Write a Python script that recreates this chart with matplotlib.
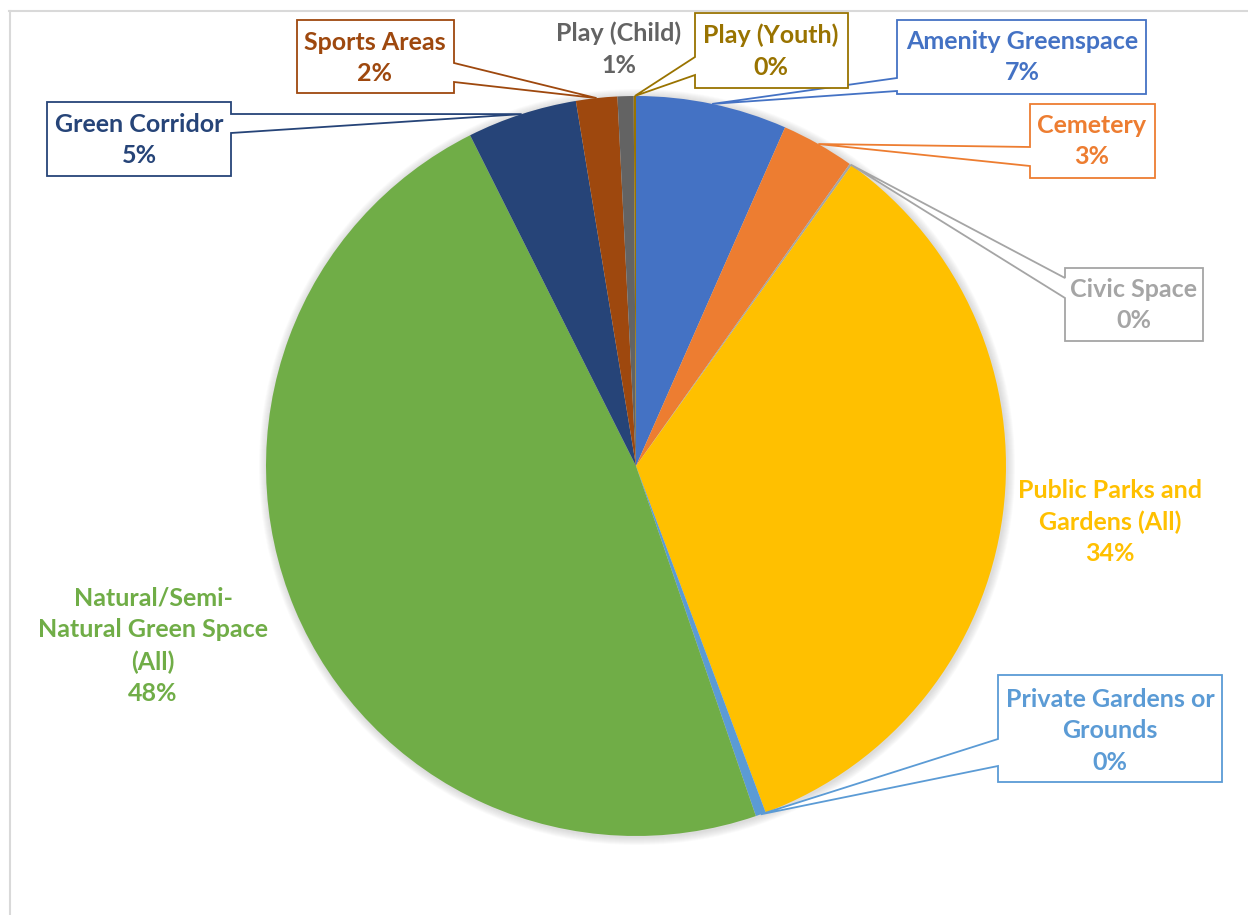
import matplotlib
matplotlib.use('Agg')
import matplotlib.pyplot as plt
import numpy as np
from matplotlib.patches import Polygon, Circle
from matplotlib.lines import Line2D

# ---------------- data ----------------
categories = ["Amenity Greenspace", "Cemetery", "Civic Space",
              "Public Parks and\nGardens (All)", "Private Gardens or\nGrounds",
              "Natural/Semi-\nNatural Green Space\n(All)", "Green Corridor",
              "Sports Areas", "Play (Child)", "Play (Youth)"]
shares = [6.6, 3.2, 0.1, 34.4, 0.45, 47.85, 4.8, 1.8, 0.7, 0.1]
colors = ["#4472C4", "#ED7D31", "#A5A5A5", "#FFC000", "#5B9BD5",
          "#70AD47", "#264478", "#9E480E", "#636363", "#997300"]

# ---------------- layout (pixel coords, y from top) ----------------
W, H = 1248, 915
CX, CY, R = 636, 466, 370
# label layout: (text centre x, text centre y, box (x0,y0,x1,y1) or None, side, base (ya, yb))
layout = [
    (1022, 57, (897, 20, 1146, 94), 'left', (78, 91)),
    (1092, 141, (1030, 104, 1155, 178), 'left', (147, 166)),
    (1134, 305, (1065, 268, 1203, 341), 'left', (278, 298)),
    (1110, 522, None, None, None),
    (1110, 731, (998, 675, 1222, 782), 'left', (739, 766)),
    (153, 646, None, None, None),
    (139, 140, (47, 102, 231, 176), 'right', (114, 133)),
    (375, 58, (297, 20, 454, 93), 'right', (63, 82)),
    (619, 49, None, None, None),
    (771, 51, (695, 13, 848, 88), 'left', (57, 75)),
]

def fy(y):
    return H - y

fig = plt.figure(figsize=(W / 100, H / 100), dpi=100)
ax = fig.add_axes([0, 0, 1, 1])

# soft shadow
for k in range(1, 9):
    ax.add_patch(Circle((CX + 1, fy(CY) - 1), R + k, fc='#808080', ec='none',
                        alpha=0.035, zorder=0))

wedges, _ = ax.pie(shares, colors=colors, startangle=90, counterclock=False,
                   center=(CX, fy(CY)), radius=R, wedgeprops=dict(linewidth=0))
for w in wedges:
    w.set_zorder(1)

ax.set_xlim(0, W)
ax.set_ylim(0, H)
ax.set_aspect('auto')
ax.axis('off')

total = sum(shares)
font = dict(family=['Lato', 'DejaVu Sans'], fontweight='bold', fontsize=18)

for w, cat, val, col, lay in zip(wedges, categories, shares, colors, layout):
    tx, ty, box, side, base = lay
    label = f"{cat}\n{round(val / total * 100):.0f}%"
    if box is not None:
        x0, y0, x1, y1 = box
        mid = np.deg2rad((w.theta1 + w.theta2) / 2)
        tip = (CX + R * np.cos(mid), fy(CY) + R * np.sin(mid))
        ya, yb = base
        if side == 'left':
            pts = [(x0, fy(y0)), (x1, fy(y0)), (x1, fy(y1)), (x0, fy(y1)),
                   (x0, fy(yb)), tip, (x0, fy(ya))]
        else:
            pts = [(x0, fy(y0)), (x1, fy(y0)), (x1, fy(ya)), tip,
                   (x1, fy(yb)), (x1, fy(y1)), (x0, fy(y1))]
        ax.add_patch(Polygon(pts, closed=True, fc='white', ec=col, lw=1.3,
                             joinstyle='miter', zorder=3))
    ax.text(tx, fy(ty), label, ha='center', va='center', multialignment='center',
            color=col, linespacing=1.45, zorder=4, **font)

# chart frame lines
fig.add_artist(Line2D([9 / W, 1], [fy(11) / H, fy(11) / H], color='#D9D9D9', lw=1.5))
fig.add_artist(Line2D([10 / W, 10 / W], [0, fy(11) / H], color='#D9D9D9', lw=1.5))

fig.savefig('out.png', dpi=100, facecolor='white')
